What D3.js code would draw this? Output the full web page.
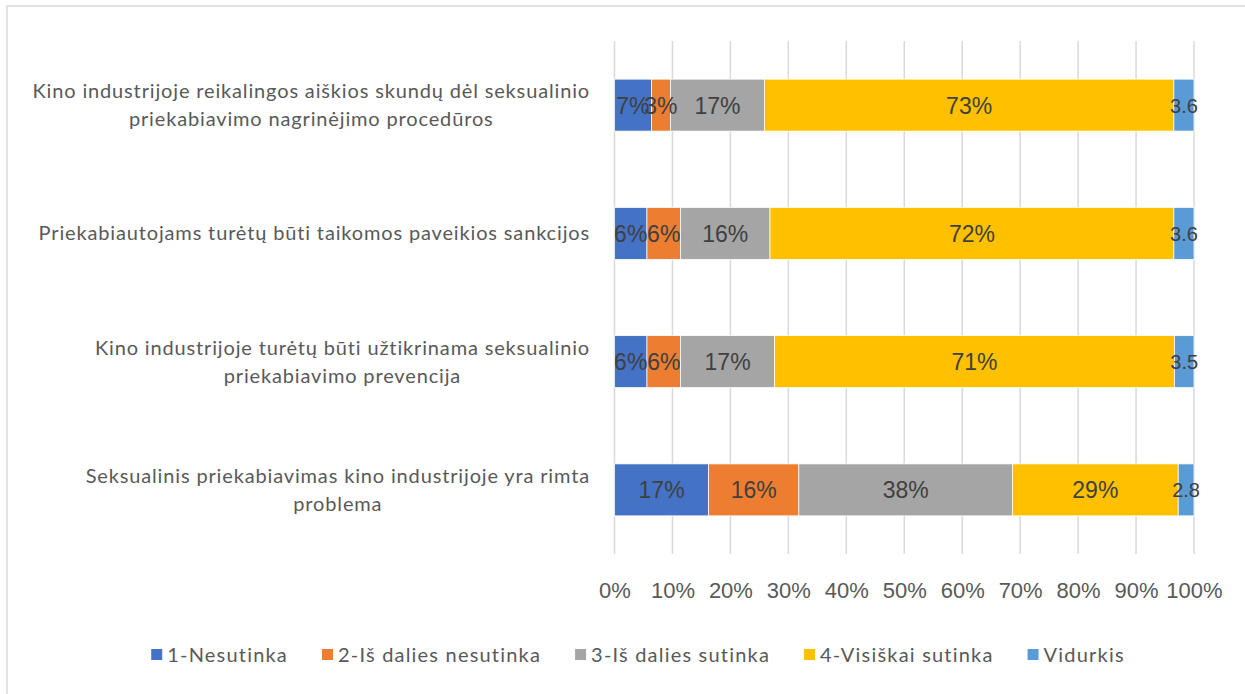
<!DOCTYPE html>
<html><head><meta charset="utf-8">
<script src="https://cdn.jsdelivr.net/npm/d3@7"></script>
<style>body{margin:0;background:#fff}svg{display:block}</style>
</head><body><svg id="c" width="1245" height="694"></svg>
<script>
const categories = [
  ["Kino industrijoje reikalingos aiškios skundų dėl seksualinio","priekabiavimo nagrinėjimo procedūros"],
  ["Priekabiautojams turėtų būti taikomos paveikios sankcijos"],
  ["Kino industrijoje turėtų būti užtikrinama seksualinio","priekabiavimo prevencija"],
  ["Seksualinis priekabiavimas kino industrijoje yra rimta","problema"]
];
const seriesNames = ["1-Nesutinka","2-Iš dalies nesutinka","3-Iš dalies sutinka","4-Visiškai sutinka","Vidurkis"];
const s1 = [6.6, 5.8, 5.8, 16.7];
const s2 = [3.4, 6.0, 6.0, 16.0];
const s3 = [16.8, 16.0, 16.8, 37.9];
const s4 = [73.2, 72.2, 71.4, 29.4];
const vidurkis = [3.6, 3.6, 3.5, 2.8];
const colors = ["#4472C4","#ED7D31","#A5A5A5","#FFC000","#5B9BD5"];
const ticks = [0,0.1,0.2,0.3,0.4,0.5,0.6,0.7,0.8,0.9,1];

(function(){
const svg = d3.select("#c");
svg.append("rect").attr("x",7).attr("y",6).attr("width",1300).attr("height",800)
  .attr("fill","#fff").attr("stroke","#d9d9d9").attr("stroke-width",1.5);

const pl = 614.5, pr = 1194, pt = 41, pb = 554;
const x = d3.scaleLinear().domain([0,1]).range([pl,pr]);
const y = d3.scaleBand().domain(d3.range(categories.length)).range([pt,pb]).paddingInner(0.595).paddingOuter(0.2975);

svg.append("g").selectAll("line").data(ticks).join("line")
  .attr("x1",d=>x(d)).attr("x2",d=>x(d)).attr("y1",pt).attr("y2",pb)
  .attr("stroke","#d9d9d9").attr("stroke-width",1.5);

const rows = categories.map((c,i)=>{
  const vals=[s1[i],s2[i],s3[i],s4[i],vidurkis[i]];
  const tot=d3.sum(vals);
  let acc=0;
  return vals.map((v,k)=>{const seg={row:i,k,v,x0:acc/tot,x1:(acc+v)/tot};acc+=v;return seg;});
});
const segs = rows.flat();
svg.append("g").selectAll("rect").data(segs).join("rect")
  .attr("x",d=>x(d.x0)).attr("width",d=>x(d.x1)-x(d.x0))
  .attr("y",d=>y(d.row)).attr("height",y.bandwidth())
  .attr("fill",d=>colors[d.k]).attr("stroke","#fff").attr("stroke-width",0.75);

svg.append("g").selectAll("text").data(segs).join("text")
  .attr("x",d=>(x(d.x0)+x(d.x1))/2).attr("y",d=>y(d.row)+y.bandwidth()/2+(d.k===4?7.5:8.5))
  .attr("text-anchor","middle").attr("font-family","Liberation Sans, Arial, sans-serif")
  .attr("font-size",d=>d.k===4?20:23).attr("fill","#404040")
  .text(d=>d.k===4? d.v.toFixed(1) : Math.round(d.v)+"%");

const ax = d3.axisBottom(x).tickValues(ticks).tickFormat(d3.format(".0%")).tickSize(0);
const axg = svg.append("g").attr("transform",`translate(0,${pb+25})`).call(ax);
axg.select(".domain").remove();
axg.selectAll("text").attr("font-family","Liberation Sans, Arial, sans-serif").attr("font-size",22).attr("fill","#595959");

const cg = svg.append("g");
categories.forEach((lines,i)=>{
  const g = cg.append("g");
  const cy = y(i)+y.bandwidth()/2;
  const lh = 28;
  const ts = lines.map((l,j)=>g.append("text").text(l)
    .attr("font-family","Lato, Calibri, sans-serif").attr("font-size",20).attr("letter-spacing",0.85).attr("fill","#595959")
    .attr("y",cy + (j-(lines.length-1)/2)*lh + 7));
  const maxW = d3.max(ts,t=>t.node().getComputedTextLength());
  ts.forEach(t=>t.attr("x",590-maxW/2).attr("text-anchor","middle"));
});

const lg = svg.append("g");
let lx = 0;
const gap = 34;
seriesNames.forEach((n,k)=>{
  const g = lg.append("g").attr("transform",`translate(${lx},0)`);
  g.append("rect").attr("x",0).attr("y",-13).attr("width",11).attr("height",11).attr("fill",colors[k]);
  const t = g.append("text").attr("x",16).attr("y",0).text(n)
    .attr("font-family","Lato, Calibri, sans-serif").attr("font-size",20).attr("letter-spacing",1.2).attr("fill","#595959");
  const w = 16 + t.node().getComputedTextLength();
  lx += w + gap;
});
const totalW = lx - gap;
lg.attr("transform",`translate(${638-totalW/2},662)`);
})();
</script></body></html>
